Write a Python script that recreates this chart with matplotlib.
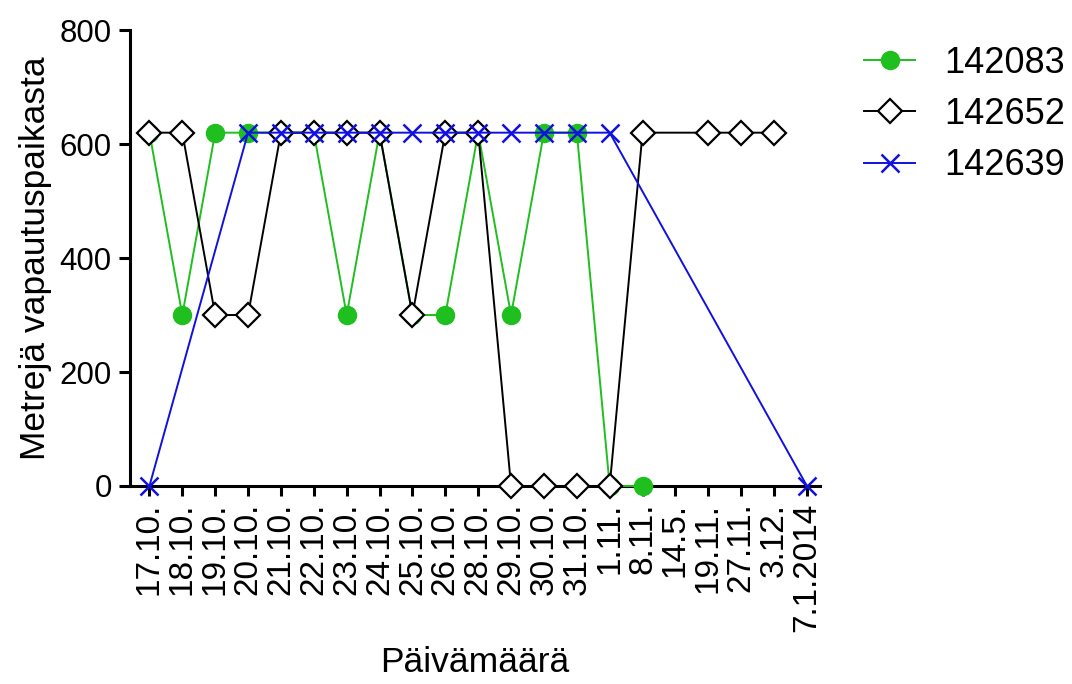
import numpy as np
import matplotlib
matplotlib.use("Agg")
import matplotlib.pyplot as plt

plt.rcParams['font.family'] = ['Liberation Sans', 'DejaVu Sans']

paivat = ["17.10.", "18.10.", "19.10.", "20.10.", "21.10.", "22.10.", "23.10.",
          "24.10.", "25.10.", "26.10.", "28.10.", "29.10.", "30.10.", "31.10.",
          "1.11.", "8.11.", "14.5.", "19.11.", "27.11.", "3.12.", "7.1.2014"]

nan = np.nan
s142083 = [620, 300, 620, 620, 620, 620, 300, 620, 300, 300, 620, 300, 620, 620,
           0, 0, nan, nan, nan, nan, nan]
s142652 = [620, 620, 300, 300, 620, 620, 620, 620, 300, 620, 620, 0, 0, 0,
           0, 620, nan, 620, 620, 620, nan]
s142639 = [0, nan, nan, 620, 620, 620, 620, 620, 620, 620, 620, 620, 620, 620,
           620, nan, nan, nan, nan, nan, 0]

sarjat = [
    ("142083", s142083, dict(color="#1fbf1f", marker="o", ms=13, mfc="#1fbf1f", mec="#1fbf1f")),
    ("142652", s142652, dict(color="black", marker="D", ms=12.5, mfc="white", mec="black", mew=1.6)),
    ("142639", s142639, dict(color="#1010e0", marker="x", ms=13, mew=1.8)),
]

fig = plt.figure(figsize=(10.72, 6.84), dpi=100)
ax = fig.add_axes([0.121, 0.2895, 0.644, 0.6665])

x = np.arange(len(paivat))
for nimi, arvot, tyyli in sarjat:
    y = np.array(arvot, dtype=float)
    ok = ~np.isnan(y)
    ax.plot(x[ok], y[ok], lw=1.4, label=nimi, clip_on=False, zorder=3, **tyyli)

ax.set_xlim(-0.6, 20.4)
ax.set_ylim(0, 800)
ax.set_yticks([0, 200, 400, 600, 800])
ax.set_xticks(x)
ax.set_xticklabels(paivat, rotation=90, fontsize=24)
ax.tick_params(axis='y', labelsize=22.5, width=2.2, length=8, direction='out', pad=5)
ax.tick_params(axis='x', width=2.2, length=7, direction='out', pad=5)
for s in ['top', 'right']:
    ax.spines[s].set_visible(False)
for s in ['left', 'bottom']:
    ax.spines[s].set_linewidth(2.2)

ax.set_ylabel("Metrejä vapautuspaikasta", fontsize=25.5)
ax.yaxis.set_label_coords(-0.113, 0.5)
ax.set_xlabel("Päivämäärä", fontsize=25.5, labelpad=10)

ax.legend(loc='upper left', bbox_to_anchor=(1.017, 1.037), frameon=False,
          fontsize=26, handlelength=1.4, labelspacing=0.45, handletextpad=0.8)

fig.savefig("out.png", dpi=100)
